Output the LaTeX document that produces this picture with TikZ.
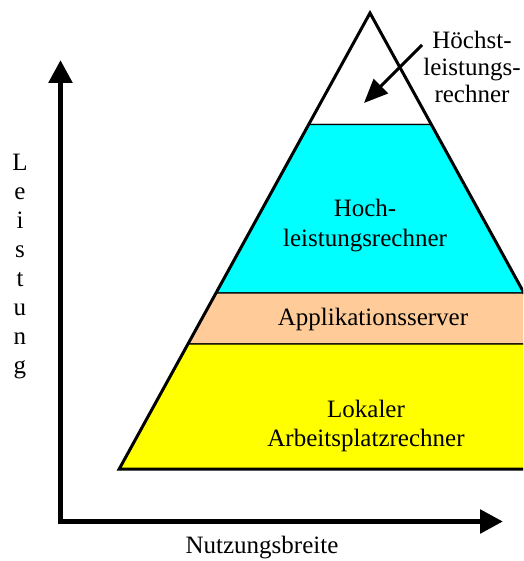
\documentclass[tikz,border=0pt]{standalone}
\usepackage{fontspec}
\setmainfont{Liberation Serif}
\usetikzlibrary{arrows.meta}
\definecolor{hlcyan}{HTML}{00FFFF}
\definecolor{peach}{HTML}{FFCC99}
\definecolor{lyellow}{HTML}{FFFF00}
\begin{document}
\begin{tikzpicture}[x=1pt,y=-1pt,
  layer/.style={draw=black,line width=1.2pt},
  outline/.style={draw=black,line width=3pt,line join=miter},
  lbl/.style={font=\fontsize{25}{30}\selectfont,inner sep=0pt,align=center},
  axis/.style={line width=5.5pt,-{Triangle[length=23pt,width=23pt]}},
  pointer/.style={line width=3pt,-{Triangle[length=24pt,width=20pt]}}]
\useasboundingbox (0,0) rectangle (523,561);
\begin{scope}
\clip (0,0) rectangle (523,561);
% layers
\path[layer,fill=white] (370,13) -- (308.7,124.5) -- (431.3,124.5) -- cycle;
\path[layer,fill=hlcyan] (308.7,124.5) -- (216,293) -- (524,293) -- (431.3,124.5) -- cycle;
\path[layer,fill=peach] (216,293) -- (187.95,344) -- (552.05,344) -- (524,293) -- cycle;
\path[layer,fill=lyellow] (187.95,344) -- (119.2,469) -- (620.8,469) -- (552.05,344) -- cycle;
\path[outline] (620.8,469) -- (370,13) -- (119.2,469) -- cycle;
\end{scope}
% labels
\node[lbl] (hoch) at (365,226) {Hoch-\\leistungsrechner};
\node[lbl,anchor=base] (app) at (373,325) {Applikationsserver};
\node[lbl,font=\fontsize{25}{29}\selectfont] (lok) at (366,425.5) {Lokaler\\Arbeitsplatzrechner};
\node[lbl,font=\fontsize{25}{27}\selectfont] (hoechst) at (472,66.5) {Höchst-\\leistungs-\\rechner};
\node[lbl,anchor=base] (nutz) at (262,553) {Nutzungsbreite};
\node[lbl,font=\fontsize{25}{29}\selectfont] (leist) at (20,267) {L\\e\\i\\s\\t\\u\\n\\g};
% pointer arrow
\coordinate (pstart) at (422,45);
\coordinate (ptip) at (364,103);
\draw[pointer] (pstart) -- (ptip);
% axes
\coordinate (vbase) at (60.5,524);
\coordinate (vtip) at (60.5,60);
\coordinate (hbase) at (58,521.5);
\coordinate (htip) at (503,521.5);
\draw[axis] (vbase) -- (vtip);
\draw[axis] (hbase) -- (htip);
\end{tikzpicture}
\end{document}
